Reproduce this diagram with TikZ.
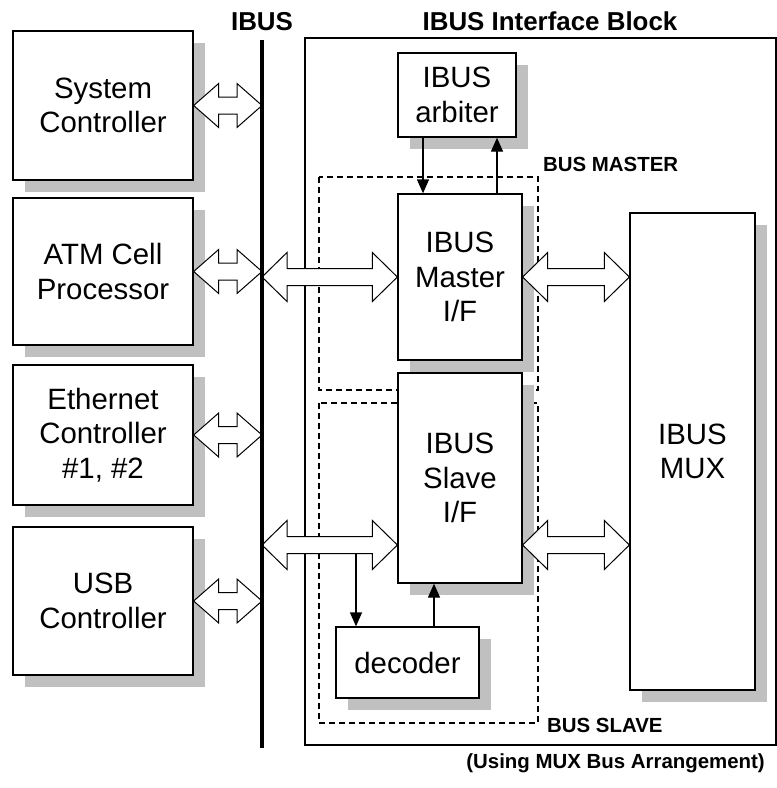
\documentclass[tikz,border=0pt]{standalone}
\usepackage{fontspec}
\setmainfont{Liberation Sans}
\usetikzlibrary{arrows.meta,shadows,calc}

\definecolor{shade}{RGB}{192,192,192}

% hollow two-headed bus arrow between two points on one row
\newcommand{\busarrow}[3][22bp]{%
  \draw[hollow] let \p1=#2, \p2=#3 in
    (\x1,\y1) -- (\x1+25bp,\y1+#1) -- (\x1+25bp,\y1+8.5bp)
    -- (\x2-25bp,\y1+8.5bp) -- (\x2-25bp,\y1+#1) -- (\x2,\y1)
    -- (\x2-25bp,\y1-#1) -- (\x2-25bp,\y1-8.5bp)
    -- (\x1+25bp,\y1-8.5bp) -- (\x1+25bp,\y1-#1) -- cycle;}

\begin{document}
\begin{tikzpicture}[x=1bp,y=-1bp]

\tikzset{box/.style = {draw,fill=white,line width=1.3bp,align=center,inner sep=0pt,
  font=\fontsize{29.5}{34.5}\selectfont,
  drop shadow={shadow xshift=12bp,shadow yshift=-12bp,fill=shade,opacity=1}}}
\tikzset{sig/.style = {-{Triangle[length=14bp,width=12bp]},line width=1.3bp}}
\tikzset{hollow/.style = {draw,fill=white,line width=1bp,line join=miter}}
\tikzset{group/.style = {draw,dash pattern=on 6bp off 4bp,line width=1.6bp}}
\tikzset{tag/.style = {font=\bfseries\fontsize{20.5}{24}\selectfont,inner sep=0pt}}
\tikzset{heading/.style = {font=\bfseries\fontsize{26}{30}\selectfont,inner sep=0pt}}

\useasboundingbox (0,0) rectangle (777,788);

% frame and groups
\draw[line width=2bp] (305,38) rectangle (776,745);
\draw[group] (319,177) rectangle (538,390);
\draw[group] (319,403) rectangle (538,723);

% devices on the bus
\node[box,minimum width=180bp,minimum height=149bp] (sys) at (103,105.5) {System\\Controller};
\node[box,minimum width=180bp,minimum height=147bp] (atm) at (103,271.5) {ATM Cell\\Processor};
\node[box,minimum width=180bp,minimum height=140bp] (eth) at (103,435) {Ethernet\\Controller\\\#1, \#2};
\node[box,minimum width=180bp,minimum height=148bp] (usb) at (103,601) {USB\\Controller};

% interface block
\node[box,minimum width=118bp,minimum height=84bp] (arb) at (457,95) {IBUS\\arbiter};
\node[box,minimum width=124bp,minimum height=166bp] (master) at (460,277) {IBUS\\Master\\I/F};
\node[box,minimum width=124bp,minimum height=210bp] (slave) at (460,478) {IBUS\\Slave\\I/F};
\node[box,minimum width=125bp,minimum height=477bp] (mux) at (692.5,451.5) {IBUS\\MUX};
\node[box,minimum width=143bp,minimum height=71bp] (dec) at (407.5,662.5) {decoder};

\coordinate (bustop) at (262,40);
\coordinate (busbot) at (262,748);
\coordinate (srow) at (262,545);

\busarrow{(sys.east)}{(bustop |- sys.east)}
\busarrow{(atm.east)}{(bustop |- atm.east)}
\busarrow{(eth.east)}{(bustop |- eth.east)}
\busarrow{(usb.east)}{(bustop |- usb.east)}
\busarrow[24.5bp]{(bustop |- master.west)}{(master.west)}
\busarrow[24.5bp]{(master.east)}{(mux.west |- master.east)}
\busarrow[24.5bp]{(bustop |- srow)}{(slave.west |- srow)}
\busarrow[24.5bp]{(slave.east |- srow)}{(mux.west |- srow)}

\draw[line width=4.5bp] (bustop) -- (busbot);

\coordinate (grant) at (423,137);
\coordinate (req) at (497,194);
\coordinate (tap) at (356,553.5);
\coordinate (sel) at (434,627);

\draw[sig] (grant) -- (grant |- master.north);
\draw[sig] (req) -- (req |- arb.south);
\draw[sig] (tap) -- (tap |- dec.north);
\draw[sig] (sel) -- (sel |- slave.south);

\node[heading,anchor=base] (buslbl) at (262,31) {IBUS};
\node[heading,anchor=base] (blocklbl) at (550,31) {IBUS Interface Block};
\node[tag,anchor=base west] (mlbl) at (543,171) {BUS MASTER};
\node[tag,anchor=base west] (slbl) at (547,732) {BUS SLAVE};
\node[tag,anchor=base east] (note) at (765,768) {(Using MUX Bus Arrangement)};

\end{tikzpicture}
\end{document}
